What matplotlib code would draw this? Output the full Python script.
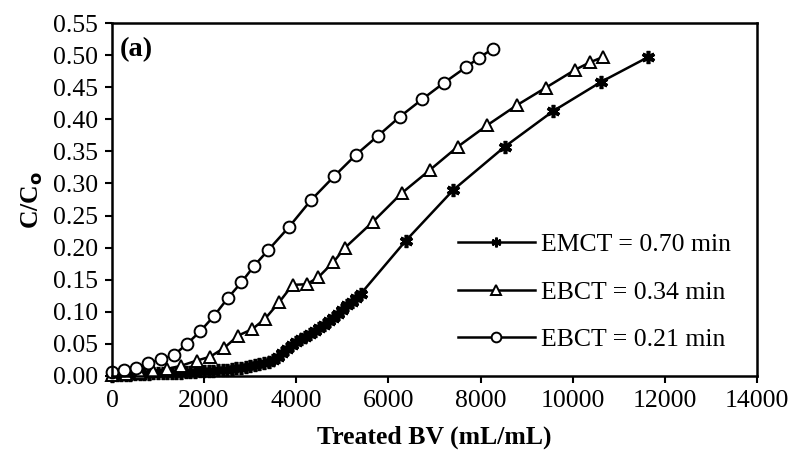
import matplotlib.pyplot as plt

plt.rcParams['font.family'] = ['Liberation Serif', 'DejaVu Serif']

# EMCT = 0.70 min (dense readings, then sparse)
emct_x = [0, 100, 200, 300, 400, 500, 600, 700, 800, 900, 1000, 1100, 1200, 1300,
          1400, 1500, 1600, 1700, 1800, 1900, 2000, 2100, 2200, 2300, 2400, 2500,
          2600, 2700, 2800, 2900, 3000, 3100, 3200, 3300, 3400, 3500, 3600, 3700,
          3800, 3900, 4000, 4100, 4200, 4300, 4400, 4500, 4600, 4700, 4800, 4900,
          5000, 5100, 5200, 5300, 5400, 6380, 7410, 8520, 9570, 10610, 11640]
emct_y = [0.000, 0.001, 0.002, 0.002, 0.002, 0.003, 0.003, 0.003, 0.003, 0.004,
          0.004, 0.004, 0.004, 0.005, 0.005, 0.005, 0.006, 0.006, 0.006, 0.007,
          0.007, 0.008, 0.008, 0.009, 0.009, 0.010, 0.011, 0.012, 0.013, 0.014,
          0.015, 0.017, 0.018, 0.020, 0.022, 0.025, 0.030, 0.036, 0.042, 0.048,
          0.053, 0.057, 0.061, 0.065, 0.070, 0.075, 0.080, 0.085, 0.091, 0.097,
          0.103, 0.110, 0.116, 0.122, 0.128, 0.211, 0.290, 0.357, 0.4125, 0.458,
          0.497]

# EBCT = 0.34 min
ebct34_x = [0, 300, 600, 900, 1200, 1500, 1840, 2130, 2440, 2740, 3045, 3320, 3630,
            3920, 4230, 4480, 4800, 5060, 5660, 6290, 6900, 7500, 8150, 8790, 9410,
            10050, 10380, 10660]
ebct34_y = [0.002, 0.003, 0.005, 0.008, 0.011, 0.016, 0.024, 0.030, 0.044, 0.063,
            0.073, 0.089, 0.115, 0.142, 0.143, 0.154, 0.177, 0.200, 0.240, 0.285,
            0.321, 0.357, 0.391, 0.422, 0.449, 0.477, 0.489, 0.497]

# EBCT = 0.21 min
ebct21_x = [0, 270, 530, 780, 1060, 1350, 1630, 1920, 2220, 2510, 2810, 3090, 3390,
            3840, 4320, 4820, 5300, 5770, 6250, 6730, 7210, 7680, 7970, 8270]
ebct21_y = [0.006, 0.009, 0.013, 0.020, 0.026, 0.033, 0.050, 0.070, 0.094, 0.121,
            0.146, 0.172, 0.196, 0.232, 0.274, 0.311, 0.345, 0.374, 0.404, 0.431,
            0.457, 0.481, 0.496, 0.510]

x_ticks = [0, 2000, 4000, 6000, 8000, 10000, 12000, 14000]
y_ticks = [0.00, 0.05, 0.10, 0.15, 0.20, 0.25, 0.30, 0.35, 0.40, 0.45, 0.50, 0.55]

fig = plt.figure(figsize=(7.93, 4.61), dpi=100)
ax = fig.add_axes([0.1412, 0.1844, 0.8134, 0.7657])

fs = 18.5
ax.plot(emct_x, emct_y, color='black', lw=1.8, marker=(6, 2, 0), ms=9.5, mew=2.6,
        label='EMCT = 0.70 min', clip_on=False)
ax.plot(ebct34_x, ebct34_y, color='black', lw=1.8, marker='^', ms=8.5, mew=1.4,
        mfc='white', label='EBCT = 0.34 min', clip_on=False)
ax.plot(ebct21_x, ebct21_y, color='black', lw=1.8, marker='o', ms=8.5, mew=1.4,
        mfc='white', label='EBCT = 0.21 min', clip_on=False)

ax.set_xlim(0, 14000)
ax.set_ylim(0, 0.55)
ax.set_xticks(x_ticks)
ax.set_yticks(y_ticks)
ax.set_xticklabels([str(v) for v in x_ticks], fontsize=fs)
ax.set_yticklabels(['%.2f' % v for v in y_ticks], fontsize=fs)
ax.tick_params(direction='out', length=5, width=1.5, pad=5)
for s in ax.spines.values():
    s.set_linewidth(1.8)

ax.set_xlabel('Treated BV (mL/mL)', fontsize=fs, fontweight='bold', labelpad=10)
ax.set_ylabel('C/C$_\\mathbf{o}$', fontsize=fs, fontweight='bold', labelpad=6)
ax.text(0.012, 0.96, '(a)', transform=ax.transAxes, fontsize=fs + 2,
        fontweight='bold', va='top', ha='left')

leg = ax.legend(loc='upper left', bbox_to_anchor=(0.5, 0.47), frameon=False,
                fontsize=fs, handlelength=3.0, handletextpad=0.25, labelspacing=0.95)
for h in leg.legend_handles:
    h.set_markersize(7)
leg.legend_handles[0].set_markeredgewidth(1.8)

fig.savefig('out.png', dpi=100)
